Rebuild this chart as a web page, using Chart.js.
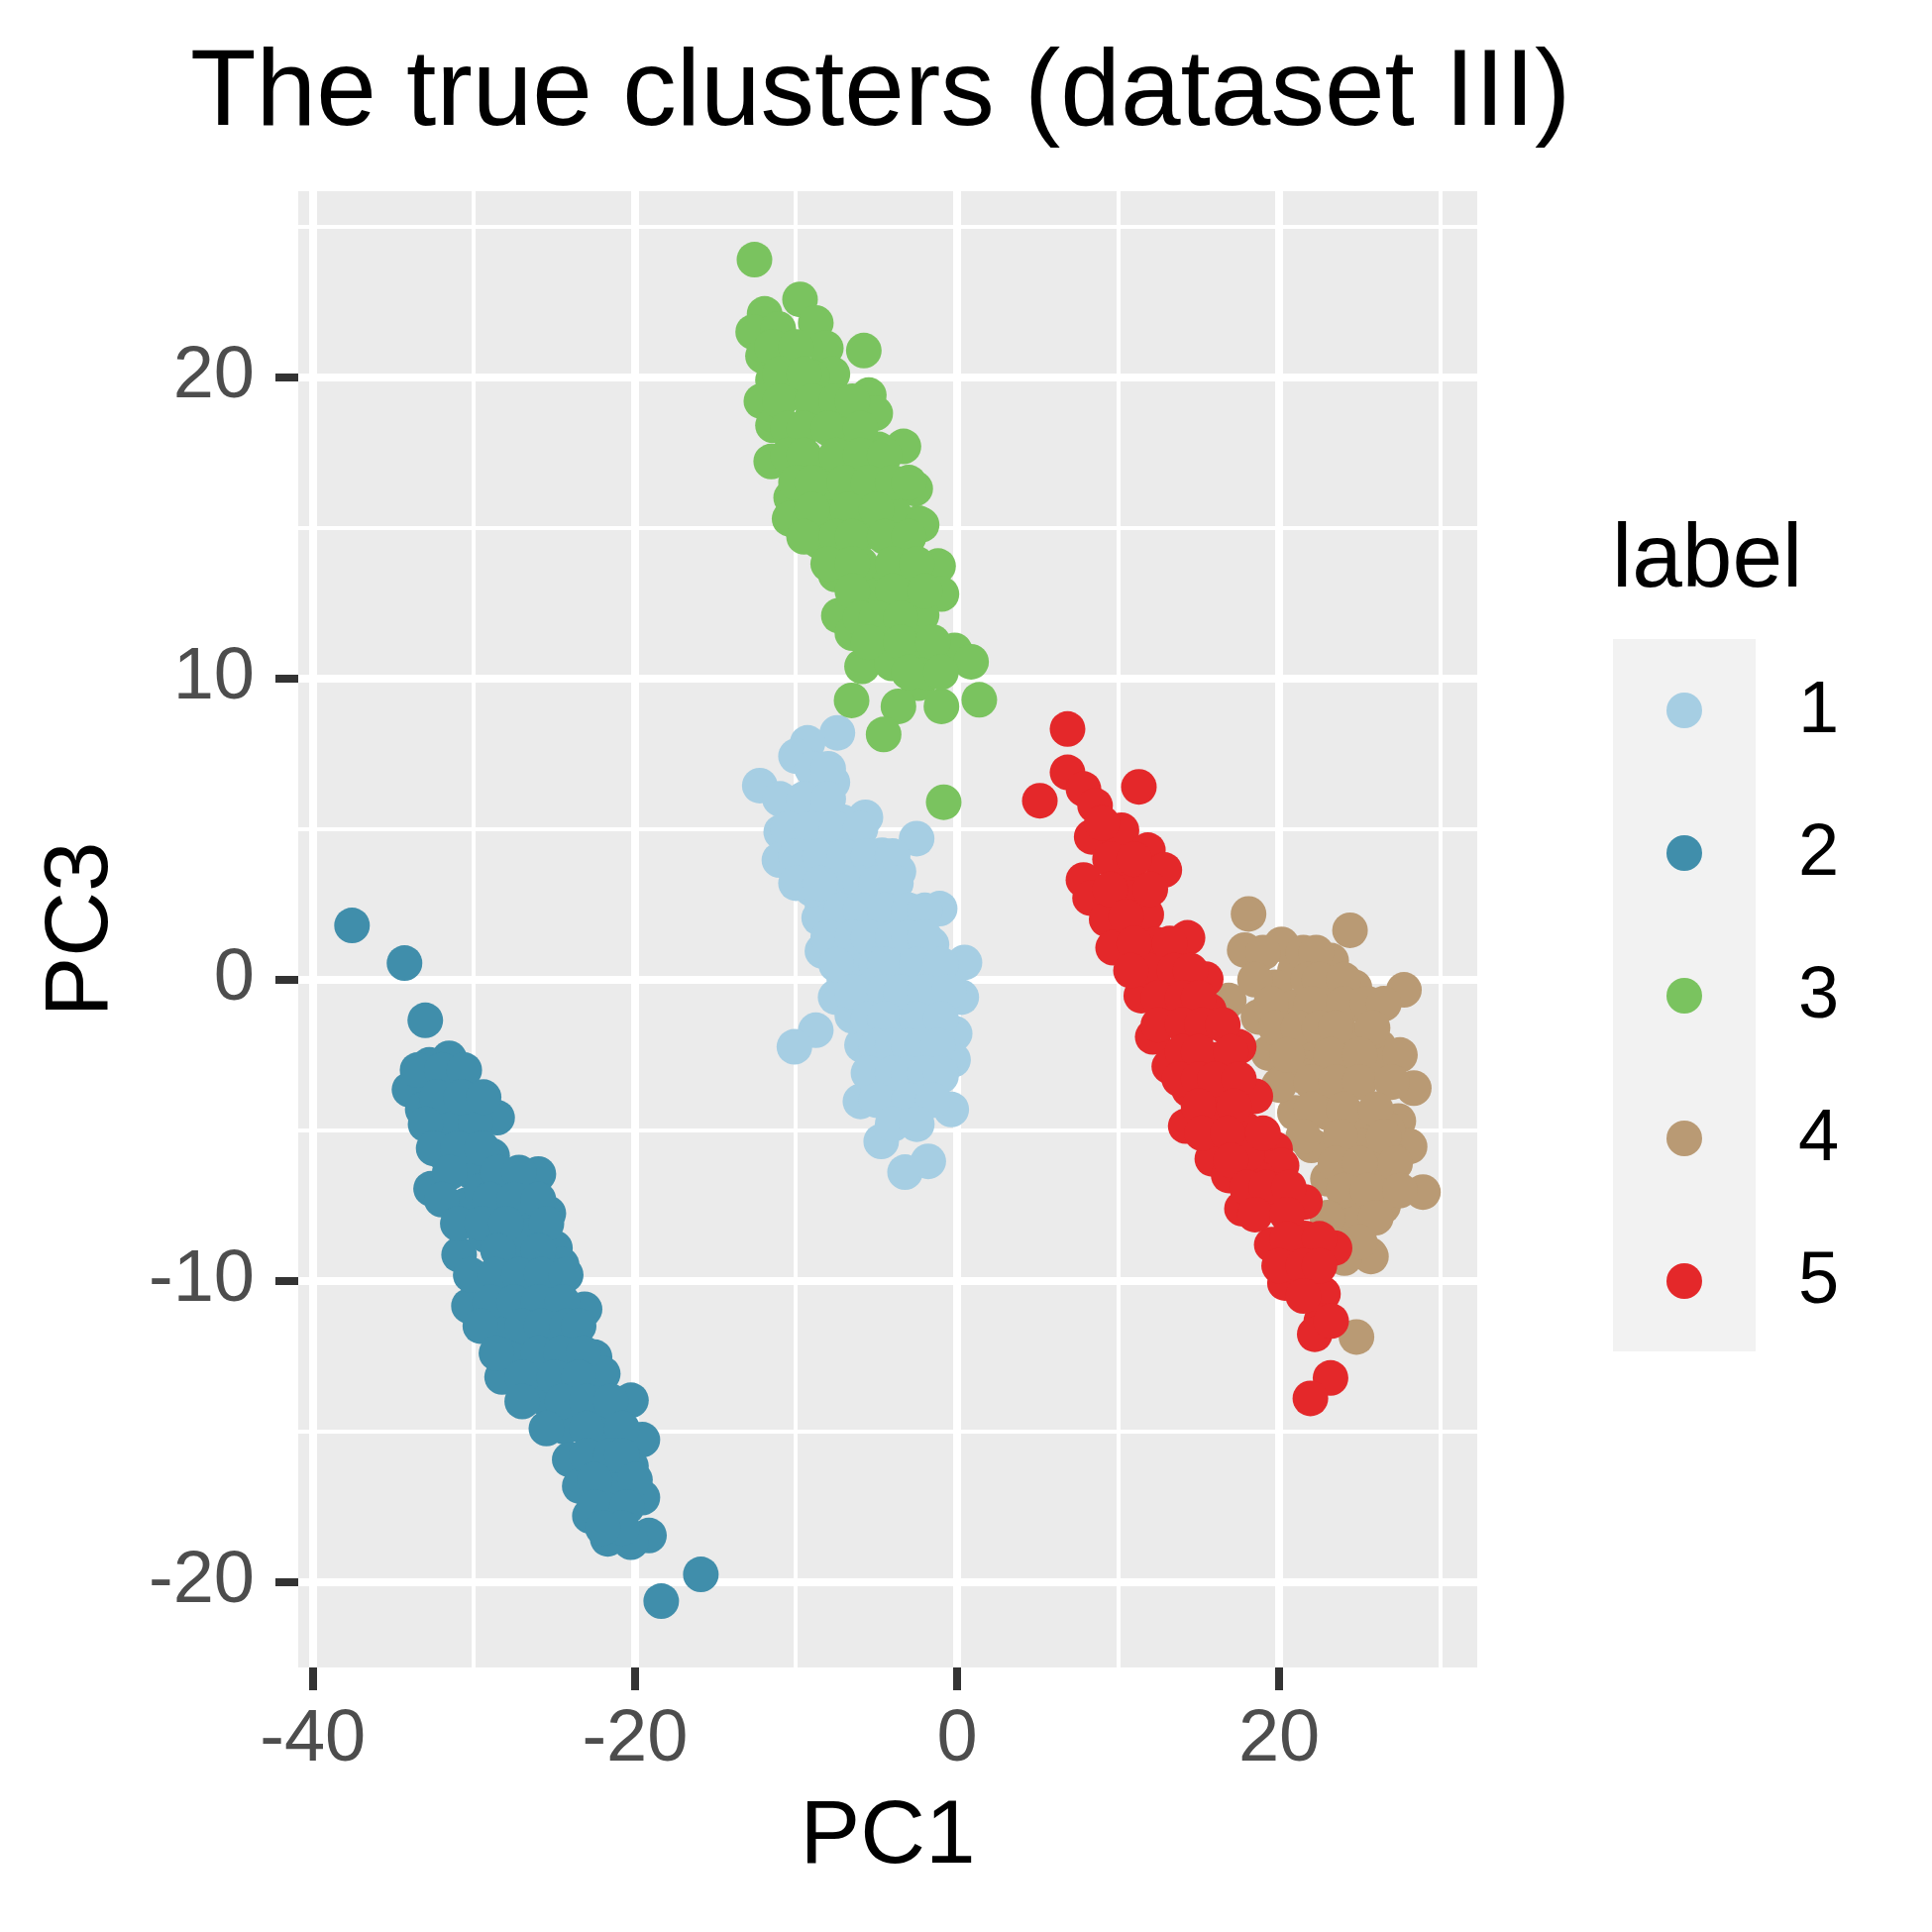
<!DOCTYPE html>
<html lang="en">
<head>
  <meta charset="UTF-8">
  <title>The true clusters (dataset III)</title>
  <script src="https://cdn.jsdelivr.net/npm/chart.js"></script>
  <style>
    html, body { margin: 0; padding: 0; background: #ffffff; }
    #chart { display: block; }
  </style>
</head>
<body>
<canvas id="chart" width="1950" height="1950"></canvas>

<script>
// --- data (PC1, PC3) ---
const clusterLabels = ['1', '2', '3', '4', '5'];
const clusterColors = ['#A6CEE3', '#408EAB', '#7AC35F', '#B99A74', '#E4282A'];

const cluster1 = [
  [-7.43, 8.19], [-9.28, 7.86], [-10.0, 7.42], [-12.25, 6.44], [-7.74, 6.55], [-5.69, 5.39],
  [-10.92, 4.9], [-11.03, 3.97], [-9.59, 3.8], [-2.51, 4.68], [-4.66, 4.13], [-3.64, 3.59],
  [-8.36, 2.49], [-8.56, 2.05], [-1.08, 2.36], [-8.36, 0.95], [-7.54, -0.58], [0.46, 0.57],
  [0.26, -0.58], [-8.77, -1.68], [-10.1, -2.23], [-5.9, -2.17], [-0.15, -1.79], [-0.25, -2.66],
  [-6.0, -4.04], [-4.36, -3.98], [-2.0, -3.54], [-0.36, -4.31], [-4.71, -5.37], [-3.23, -6.39],
  [-1.79, -6.03], [-6.71, 4.46], [-7.74, 3.37], [-5.69, 2.27], [-3.64, 2.05], [-6.1, 0.95],
  [-3.64, 0.52], [-1.59, 1.17], [-5.28, -0.58], [-2.62, -0.47], [-1.18, -0.25], [-4.05, -1.57],
  [-1.59, -1.68], [-3.64, -2.77], [-2.41, -2.66], [-9.79, 5.56], [-8.77, 4.79], [-7.13, 5.23],
  [-6.5, 3.0], [-4.5, 3.0], [-7.0, 1.8], [-4.5, 1.5], [-2.5, 1.0], [-7.0, 0.0], [-5.5, 0.2],
  [-4.0, -0.5], [-6.5, -1.2], [-3.0, -1.5], [-5.0, -3.0], [-1.0, -3.2], [-3.5, -4.2],
  [-8.5, 6.0], [-9.0, 3.0],
  [-9.0, 7.0], [-8.0, 7.0], [-11.0, 6.0], [-9.5, 6.0], [-8.0, 6.0], [-10.5, 5.0], [-9.0, 5.0],
  [-7.5, 5.0], [-6.0, 5.0], [-10.0, 4.1], [-8.5, 4.1], [-7.0, 4.1], [-5.5, 4.1], [-4.0, 4.1],
  [-10.0, 3.2], [-8.5, 3.2], [-6.0, 3.2], [-5.0, 3.2], [-3.8, 3.2], [-7.2, 2.3], [-6.0, 2.3],
  [-4.5, 2.3], [-3.0, 2.3], [-2.0, 2.3], [-8.0, 1.4], [-6.5, 1.4], [-5.5, 1.4], [-4.0, 1.4],
  [-3.0, 1.4], [-2.0, 1.4], [-7.5, 0.5], [-5.0, 0.5], [-4.5, 0.5], [-2.5, 0.5], [-1.0, 0.5],
  [-6.5, -0.4], [-4.5, -0.4], [-3.5, -0.4], [-2.0, -0.4], [-0.5, -0.4], [-5.5, -1.3],
  [-4.5, -1.3], [-2.5, -1.3], [-1.0, -1.3], [-5.0, -2.2], [-4.0, -2.2], [-3.0, -2.2],
  [-1.2, -2.2], [-5.5, -3.1], [-4.0, -3.1], [-3.0, -3.1], [-2.0, -3.1], [-1.0, -3.1],
  [-5.0, -4.0], [-3.0, -4.0], [-1.5, -4.0], [-4.0, -4.8], [-2.5, -4.8]
];

const cluster2 = [
  [-37.57, 1.8], [-34.31, 0.55], [-33.02, -1.35], [-31.54, -2.61], [-32.77, -2.83], [-34.0, -3.65],
  [-33.18, -4.31], [-30.51, -3.76], [-28.56, -4.58], [-31.94, -5.73], [-28.87, -5.85], [-32.66, -6.94],
  [-30.51, -7.49], [-26.0, -6.45], [-25.38, -7.76], [-30.92, -9.13], [-29.28, -8.48], [-24.97, -8.91],
  [-27.43, -9.13], [-31.54, -4.75], [-29.9, -4.75], [-30.1, -6.39], [-28.25, -6.94], [-27.43, -7.82],
  [-31.54, -3.43], [-27.43, -9.46], [-24.56, -9.46], [-30.31, -10.83], [-23.13, -10.94],
  [-28.25, -11.65], [-25.38, -11.22], [-28.25, -13.19], [-22.51, -12.53], [-25.79, -13.85],
  [-22.0, -13.08], [-20.25, -13.96], [-24.36, -14.84], [-21.9, -14.94], [-19.54, -15.27],
  [-24.05, -15.93], [-20.25, -16.15], [-23.43, -16.81], [-19.54, -17.19], [-21.48, -17.36],
  [-21.69, -18.56], [-19.13, -18.45], [-20.25, -18.67], [-15.91, -19.74], [-18.37, -20.63],
  [-26.4, -10.34], [-25.38, -12.31], [-23.74, -13.63], [-27.0, -12.42], [-29.0, -10.0],
  [-26.5, -8.5], [-22.5, -15.5], [-21.0, -16.5], [-22.8, -17.8], [-24.0, -12.5], [-29.5, -7.0],
  [-33.5, -3.0], [-32.0, -3.0], [-30.6, -3.0], [-32.3, -3.9], [-30.8, -3.9], [-29.4, -3.9],
  [-33.0, -4.8], [-32.5, -5.6], [-31.0, -5.6], [-29.5, -5.6], [-31.5, -6.4], [-28.5, -6.4],
  [-27.2, -6.4], [-32.0, -7.3], [-29.0, -7.3], [-27.5, -7.3], [-26.0, -7.3], [-31.0, -8.1],
  [-29.5, -8.1], [-28.0, -8.1], [-25.5, -8.1], [-28.5, -9.0], [-26.0, -9.0], [-30.2, -9.8],
  [-28.7, -9.8], [-27.2, -9.8], [-25.8, -9.8], [-24.3, -9.8], [-29.0, -10.7], [-27.5, -10.7],
  [-26.0, -10.7], [-24.5, -10.7], [-29.6, -11.5], [-27.0, -11.5], [-25.8, -11.5], [-24.2, -11.5],
  [-23.5, -11.5], [-28.6, -12.4], [-26.0, -12.4], [-24.6, -12.4], [-23.2, -12.4], [-27.0, -13.2],
  [-25.0, -13.2], [-23.5, -13.2], [-27.0, -14.0], [-24.5, -14.0], [-23.0, -14.0], [-21.5, -14.0],
  [-25.5, -14.9], [-23.0, -14.9], [-20.8, -14.9], [-23.0, -15.8], [-21.5, -15.8], [-20.8, -15.8],
  [-22.5, -16.6], [-20.0, -16.6], [-22.5, -17.5], [-20.5, -17.5], [-20.8, -18.2], [-22.0, -18.2]
];

const cluster3 = [
  [-12.58, 23.9], [-9.75, 22.58], [-11.95, 22.1], [-12.66, 21.5], [-11.1, 21.6], [-8.77, 21.8],
  [-8.15, 20.96], [-5.79, 20.88], [-12.05, 20.7], [-11.43, 19.9], [-12.15, 19.2], [-7.74, 20.1],
  [-5.48, 19.4], [-5.08, 18.8], [-11.43, 18.4], [-11.54, 17.2], [-3.33, 17.7], [-2.6, 16.3],
  [-10.3, 16.0], [-2.4, 15.15], [-10.0, 15.2], [-8.97, 18.7], [-6.92, 18.2], [-8.97, 17.1],
  [-6.5, 16.7], [-4.87, 17.6], [-7.95, 15.6], [-5.9, 15.6], [-4.46, 16.2], [-3.85, 15.4],
  [-10.0, 19.5], [-10.0, 18.2], [-10.4, 15.3], [-2.2, 15.1], [-8.56, 14.55], [-5.9, 14.8],
  [-3.64, 14.33], [-1.18, 13.73], [-0.97, 12.8], [-7.54, 13.45], [-4.87, 13.45], [-7.34, 12.08],
  [-4.46, 11.9], [-2.2, 12.1], [-5.69, 12.8], [-3.23, 12.9], [-5.9, 10.4], [-4.05, 10.5],
  [-2.62, 10.93], [-0.15, 10.93], [0.87, 10.55], [-2.41, 9.84], [-0.97, 9.07], [-3.64, 9.07],
  [1.38, 9.29], [-6.55, 9.27], [-4.56, 8.14], [-0.83, 5.89], [-1.8, 10.2], [-9.0, 20.0],
  [-7.0, 19.0], [-6.0, 17.5], [-8.0, 16.5], [-7.0, 14.5], [-6.0, 13.8], [-3.0, 14.0],
  [-2.8, 11.2], [-4.0, 11.5], [-6.5, 11.5],
  [-11.5, 21.0], [-10.0, 21.0], [-11.0, 20.1], [-9.5, 20.1], [-11.0, 19.2], [-9.0, 19.2],
  [-7.5, 19.2], [-6.5, 19.2], [-10.5, 18.3], [-9.5, 18.3], [-8.0, 18.3], [-6.0, 18.3],
  [-10.5, 17.4], [-9.5, 17.4], [-7.5, 17.4], [-6.0, 17.4], [-4.5, 17.4], [-10.0, 16.5],
  [-9.0, 16.5], [-7.0, 16.5], [-5.5, 16.5], [-4.0, 16.5], [-3.0, 16.5], [-9.0, 15.6],
  [-6.8, 15.6], [-5.0, 15.6], [-9.5, 14.7], [-7.5, 14.7], [-6.5, 14.7], [-4.5, 14.7],
  [-3.0, 14.7], [-8.0, 13.8], [-6.5, 13.8], [-4.0, 13.8], [-2.5, 13.8], [-6.5, 12.9],
  [-4.0, 12.9], [-2.0, 12.9], [-6.0, 12.0], [-5.0, 12.0], [-3.5, 12.0], [-5.5, 11.2],
  [-3.5, 11.2], [-1.5, 11.2], [-3.0, 10.2], [-1.0, 10.2]
];

const cluster4 = [
  [18.1, 2.18], [17.86, 0.98], [20.15, 1.17], [24.4, 1.64], [27.75, -0.34], [16.87, -0.69],
  [20.98, 0.3], [23.23, 0.63], [24.67, -0.25], [19.75, -0.25], [18.72, -1.24], [20.98, -0.91],
  [23.64, -1.24], [24.67, -2.01], [26.1, -2.56], [28.36, -3.6], [19.34, -2.44], [22.0, -2.44],
  [23.03, -0.69], [22.0, -1.79], [28.93, -7.05], [28.1, -5.54], [25.63, -9.13], [24.8, -11.86],
  [26.2, -2.23], [26.7, -2.8], [27.4, -4.69], [26.45, -7.52], [24.1, -9.03], [22.92, -8.46],
  [24.1, -6.58], [25.27, -4.69], [22.92, -3.74], [28.05, -5.52], [25.7, -9.19], [24.05, -9.24],
  [23.03, -4.42], [25.08, -5.52], [23.03, -6.61], [26.1, -6.61], [25.08, -7.93], [24.05, -7.93],
  [20.98, -4.42], [26.72, -4.97], [21.5, -3.2], [20.0, -3.5], [22.0, -5.5], [27.0, -6.0],
  [24.0, -3.0], [21.0, -1.5], [25.5, -1.0],
  [19.0, 0.9], [21.5, 0.9], [22.3, 0.9], [18.5, 0.0], [21.8, 0.0], [22.5, 0.0], [24.0, 0.0],
  [19.5, -0.8], [22.0, -0.8], [24.0, -0.8], [25.5, -0.8], [26.5, -0.8], [19.8, -1.6],
  [21.2, -1.6], [22.5, -1.6], [23.5, -1.6], [25.8, -1.6], [20.5, -2.5], [23.2, -2.5],
  [25.0, -2.5], [27.5, -2.5], [22.0, -3.4], [23.5, -3.4], [25.0, -3.4], [27.0, -3.4],
  [22.0, -4.3], [24.0, -4.3], [26.0, -4.3], [21.5, -5.2], [23.8, -5.2], [26.5, -5.2],
  [23.5, -6.1], [25.0, -6.1], [27.2, -6.1], [24.0, -7.0], [25.5, -7.0], [27.5, -7.0],
  [23.0, -7.9], [26.0, -7.9], [25.0, -8.7]
];

const cluster5 = [
  [6.86, 8.32], [5.14, 5.94], [6.86, 6.88], [11.29, 6.4], [7.85, 6.33], [8.57, 5.78],
  [8.36, 4.74], [10.21, 4.96], [11.85, 4.3], [12.87, 3.64], [7.85, 3.31], [8.26, 2.71],
  [10.31, 3.48], [10.72, 2.71], [9.29, 2.0], [11.75, 2.16], [14.31, 1.39], [9.69, 1.06],
  [12.36, 1.17], [15.44, 0.02], [11.44, -0.53], [13.59, -0.14], [12.15, -1.9], [17.49, -2.23],
  [13.8, -1.24], [15.64, -1.02], [13.18, -2.88], [16.05, -2.66], [14.82, -1.9], [14.41, -3.65],
  [18.52, -3.87], [14.2, -4.86], [16.46, -4.42], [15.85, -5.95], [19.75, -5.63], [20.15, -6.17],
  [16.87, -6.5], [17.69, -7.6], [21.6, -7.38], [19.75, -7.49], [19.54, -8.8], [21.6, -8.59],
  [23.44, -8.91], [20.36, -10.07], [22.72, -10.43], [22.62, -11.33], [22.21, -11.77],
  [23.23, -11.33], [23.19, -13.22], [21.94, -13.9], [17.9, -4.97], [18.72, -6.61],
  [12.0, 0.3], [14.5, -0.8], [16.5, -3.5], [18.0, -5.8],
  [9.0, 5.2], [9.5, 4.0], [11.0, 4.0], [9.5, 3.0], [12.0, 3.0], [10.5, 2.1], [11.0, 1.2],
  [13.2, 1.2], [10.8, 0.3], [13.5, 0.3], [14.5, 0.3], [12.5, -0.6], [14.0, -0.6], [15.0, -0.6],
  [12.5, -1.5], [14.0, -1.5], [15.2, -1.5], [16.5, -1.5], [14.0, -2.4], [15.0, -2.4],
  [17.0, -2.4], [13.8, -3.3], [15.0, -3.3], [16.0, -3.3], [17.5, -3.3], [15.0, -4.2],
  [17.2, -4.2], [15.2, -5.1], [16.8, -5.1], [19.0, -5.1], [17.0, -6.0], [18.0, -6.9],
  [19.2, -6.9], [20.6, -6.9], [18.5, -7.8], [20.5, -7.8], [20.5, -8.6], [22.5, -8.6],
  [20.0, -9.5], [21.5, -9.5], [22.5, -9.5], [21.5, -10.5]
];

const xBreaks = [-40, -30, -20, -10, 0, 10, 20, 30];
const xLabels = [-40, -20, 0, 20];
const yBreaks = [-20, -15, -10, -5, 0, 5, 10, 15, 20, 25];
const yLabels = [-20, -10, 0, 10, 20];

const FONT = "'Liberation Sans', Arial, sans-serif";
const clusters = [cluster1, cluster2, cluster3, cluster4, cluster5];

// panel background + plot title + the "label" legend
const ggPanel = {
  id: 'ggPanel',
  beforeDraw(chart) {
    const {ctx, chartArea: a} = chart;
    ctx.save();
    ctx.fillStyle = '#FFFFFF';
    ctx.fillRect(0, 0, chart.width, chart.height);
    ctx.fillStyle = '#EBEBEB';
    ctx.fillRect(a.left, a.top, a.right - a.left, a.bottom - a.top);
    ctx.restore();
  },
  afterDraw(chart) {
    const ctx = chart.ctx;
    ctx.save();
    ctx.fillStyle = '#000000';
    ctx.textBaseline = 'alphabetic';
    ctx.font = `109px ${FONT}`;
    ctx.fillText('The true clusters (dataset III)', 192, 126);

    // legend
    ctx.font = `91px ${FONT}`;
    ctx.fillText('label', 1627, 592);
    ctx.fillStyle = '#F2F2F2';
    ctx.fillRect(1628, 645, 144, 719);
    ctx.font = `74px ${FONT}`;
    ctx.textBaseline = 'middle';
    chart.data.datasets.forEach((ds, i) => {
      const cy = 717 + i * 144;
      ctx.fillStyle = ds.backgroundColor;
      ctx.beginPath();
      ctx.arc(1700, cy, 18, 0, Math.PI * 2);
      ctx.fill();
      ctx.fillStyle = '#000000';
      ctx.fillText(ds.label, 1815, cy + 2);
    });
    ctx.restore();
  }
};

const isMajor = (list, v) => list.includes(v);

new Chart(document.getElementById('chart'), {
  type: 'scatter',
  data: {
    datasets: clusters.map((pts, i) => ({
      label: clusterLabels[i],
      data: pts.map(p => ({x: p[0], y: p[1]})),
      backgroundColor: clusterColors[i],
      borderWidth: 0,
      pointRadius: 18,
      pointHoverRadius: 18,
      order: clusters.length - i
    }))
  },
  options: {
    responsive: false,
    devicePixelRatio: 1,
    animation: false,
    events: [],
    layout: { padding: { left: 0, right: 459, top: 193, bottom: 0 } },
    plugins: {
      legend: { display: false },
      tooltip: { enabled: false },
      title: { display: false }
    },
    scales: {
      x: {
        type: 'linear',
        min: -40.91,
        max: 32.3,
        afterBuildTicks: s => { s.ticks = xBreaks.map(v => ({value: v})); },
        afterFit: s => { s.height = 267; },
        border: { display: false },
        grid: {
          color: '#FFFFFF',
          lineWidth: c => isMajor(xLabels, c.tick.value) ? 8 : 4,
          tickLength: 23,
          tickWidth: 8,
          tickColor: c => isMajor(xLabels, c.tick.value) ? '#333333' : 'rgba(0,0,0,0)'
        },
        ticks: {
          autoSkip: false,
          maxRotation: 0,
          padding: 6,
          color: '#4D4D4D',
          font: { family: FONT, size: 74 },
          callback: v => isMajor(xLabels, v) ? String(v) : ''
        },
        title: {
          display: true,
          text: 'PC1',
          color: '#000000',
          font: { family: FONT, size: 91 },
          padding: { top: 0, bottom: 40 }
        }
      },
      y: {
        type: 'linear',
        min: -22.83,
        max: 26.17,
        afterBuildTicks: s => { s.ticks = yBreaks.map(v => ({value: v})); },
        afterFit: s => { s.width = 301; },
        border: { display: false },
        grid: {
          color: '#FFFFFF',
          lineWidth: c => isMajor(yLabels, c.tick.value) ? 8 : 4,
          tickLength: 23,
          tickWidth: 8,
          tickColor: c => isMajor(yLabels, c.tick.value) ? '#333333' : 'rgba(0,0,0,0)'
        },
        ticks: {
          autoSkip: false,
          padding: 21,
          color: '#4D4D4D',
          font: { family: FONT, size: 74 },
          callback: v => isMajor(yLabels, v) ? String(v) : ''
        },
        title: {
          display: true,
          text: 'PC3',
          color: '#000000',
          font: { family: FONT, size: 91 },
          padding: { top: 28, bottom: 0 }
        }
      }
    }
  },
  plugins: [ggPanel]
});
</script>
</body>
</html>
